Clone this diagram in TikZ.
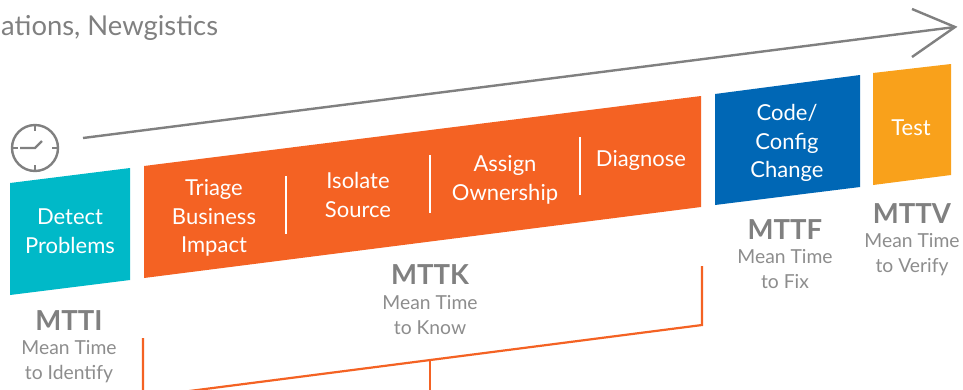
\documentclass[tikz,border=0pt]{standalone}
\usepackage{fontspec}
\setmainfont{Lato}
\usepackage{xcolor}
\definecolor{tealband}{HTML}{00B9C8}
\definecolor{orangeband}{HTML}{F46223}
\definecolor{blueband}{HTML}{0067B5}
\definecolor{yellowband}{HTML}{F9A11B}
\definecolor{greytext}{HTML}{808080}
\tikzset{
  bandtext/.style={text=white, font=\fontsize{22}{28.4}\selectfont, align=center, inner sep=0pt},
  metricname/.style={text=greytext, font=\fontsize{27.5}{30}\selectfont\bfseries, inner sep=0pt},
  metricnote/.style={text=greytext!90, font=\fontsize{19.3}{25}\selectfont, align=center, inner sep=0pt},
  divider/.style={draw=white, line width=1.2pt},
  bracket/.style={draw=orangeband, line width=2.2pt},
  timeline/.style={draw=greytext, line width=2.4pt}
}
\begin{document}
\begin{tikzpicture}[x=1pt,y=-1pt]
    \clip (0,0) rectangle (963,389);
    \fill[white] (0,0) rectangle (963,389);

    % Title
    \node[text=greytext, font=\fontsize{27.4}{30}\selectfont, anchor=west, inner sep=0pt] (title) at (1,28) {ations, Newgistics};

    % Clock
    \coordinate (clock) at (35,148);
    \draw[timeline] (clock) circle (23);
    \draw[timeline] (13,148) -- (18,148);
    \draw[timeline] (52,148) -- (57,148);
    \draw[timeline] (35,125) -- (35,131);
    \draw[timeline] (35,165) -- (35,171);
    \draw[timeline] (20,148) -- (clock) -- (42,141);

    % Timeline arrow
    \coordinate (start) at (83,138);
    \coordinate (tip) at (955,27);
    \draw[timeline] (start) -- (tip);
    \draw[timeline, line join=miter] (912,9) -- (tip) -- (912,57);

    % Bands
    \fill[tealband] (10,183) -- (130,168) -- (130,280) -- (10,295) -- cycle;
    \fill[orangeband] (144,166) -- (701,96) -- (701,207) -- (144,278) -- cycle;
    \fill[blueband] (715,94) -- (860,75) -- (860,187) -- (715,205) -- cycle;
    \fill[yellowband] (873,73) -- (951,64) -- (951,175) -- (873,185) -- cycle;

    % Band labels
    \node[bandtext] (detect) at (70,231) {Detect\\Problems};
    \node[bandtext] (triage) at (214,218) {Triage\\Business\\Impact};
    \node[bandtext] (isolate) at (358,195) {Isolate\\Source};
    \node[bandtext] (assign) at (505,180) {Assign\\Ownership};
    \node[bandtext] (diagnose) at (641,160) {Diagnose};
    \node[bandtext] (code) at (787,143) {Code/\\Config\\Change};
    \node[bandtext] (test) at (911,128) {Test};

    % Dividers
    \draw[divider] (286,176) -- (286,234);
    \draw[divider] (430,155) -- (430,213);
    \draw[divider] (580,137) -- (580,195);

    % Metrics
    \node[metricname] (mtti) at (69,321) {MTTI};
    \node[metricnote] (mttinote) at (69,362) {Mean Time\\to Identify};
    \node[metricname] (mttk) at (430,275) {MTTK};
    \node[metricnote] (mttknote) at (430,315) {Mean Time\\to Know};
    \node[metricname] (mttf) at (785,230) {MTTF};
    \node[metricnote] (mttfnote) at (785,269) {Mean Time\\to Fix};
    \node[metricname] (mttv) at (912,214) {MTTV};
    \node[metricnote] (mttvnote) at (912,255) {Mean Time\\to Verify};

    % Bracket
    \coordinate (bracketL) at (143,397);
    \coordinate (bracketR) at (702,325);
    \coordinate (bracketM) at (430,360);
    \draw[bracket] (143,338) -- (bracketL) -- (bracketR) -- (702,266);
    \draw[bracket] (bracketM) -- (430,395);
\end{tikzpicture}
\end{document}
